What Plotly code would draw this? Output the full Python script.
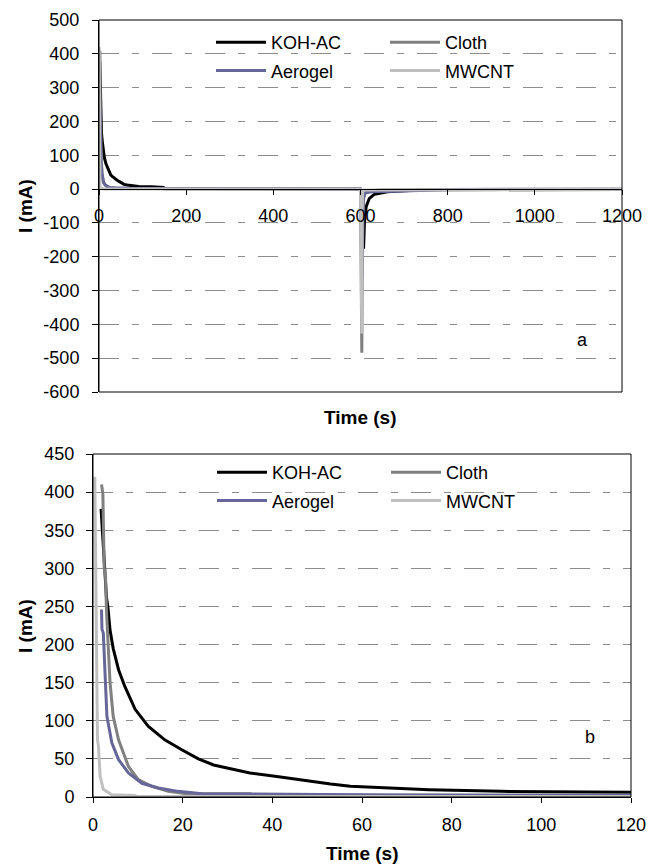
import plotly.graph_objects as go

# ---------------- data (time in s, current in mA) ----------------
koh_t = [1.8, 2.2, 3.0, 3.3, 3.8, 4.5, 5.7, 7.1, 9.4, 12.3, 16, 19.8, 23.5, 26.9, 29.8, 35, 41, 46, 53, 57.4,
         64.7, 75, 91, 120, 148, 150, 600, 607, 609, 613, 620, 632, 647, 662, 700, 750, 1200]
koh_i = [378, 340, 262, 250, 219, 195, 167, 145, 115, 93, 75, 62, 50, 42, 38, 31.5, 27, 22.7, 17, 14,
         12, 9.6, 7.4, 7, 5, 1, 0.5, -176, -101, -52, -28, -15, -11, -8, -5, -2, -1]

cloth_t = [1.9, 2.2, 2.5, 2.8, 3.0, 3.4, 3.8, 4.5, 5.7, 7.9, 10.1, 13.1, 16.8, 20.4, 35, 36, 150, 600,
           603, 604, 605, 607, 610, 620, 650, 1200]
cloth_i = [410, 398, 300, 290, 245, 195, 150, 106, 75, 40, 22.7, 14, 7.4, 4.5, 4.2, 2.5, 2, 0.5,
           -484, -200, -80, -30, -12, -5, -2, -0.5]

aero_t = [1.9, 2.0, 2.3, 2.5, 2.7, 3.1, 4.2, 5.7, 7.9, 10.9, 14.6, 19, 24.3, 65, 66, 150, 600,
          603.5, 604.5, 606, 610, 625, 700, 720, 800, 1200]
aero_i = [246, 220, 215, 190, 160, 106, 71, 49, 31.5, 18, 11.8, 7.4, 4.3, 3.5, 2.5, 2, 0.5,
          -260, -100, -30, -12, -8, -6, -5, -1, -0.5]

mwcnt_t = [0.4, 0.6, 0.8, 1.0, 1.2, 1.6, 2.3, 4.2, 9.4, 10, 600, 603, 604, 605, 608, 1200]
mwcnt_i = [420, 300, 110, 75, 68, 27, 10, 3, 2, 0.5, 0.5, -427, -60, -10, -3, -0.5]

series_names = ["KOH-AC", "Cloth", "Aerogel", "MWCNT"]
series_colors = ["#000000", "#808080", "#666699", "#C0C0C0"]

xa_ticks = [0, 200, 400, 600, 800, 1000, 1200]
ya_ticks = [500, 400, 300, 200, 100, 0, -100, -200, -300, -400, -500, -600]
ya_labels = ["500", "400", "300", "200", "100", "0", "-100", "-200", "-300", "-400", "-500", "-600"]
xb_ticks = [0, 20, 40, 60, 80, 100, 120]
yb_ticks = [0, 50, 100, 150, 200, 250, 300, 350, 400, 450]

# ---------------- layout helpers (window pixel -> paper) ----------------
# the page body has an 8px default margin, so the figure starts at (8, 8)
OFF = 8
W, H = 654 - OFF, 866 - OFF
def px(v):
    return (v - OFF) / W
def py(v):
    return 1 - (v - OFF) / H

FONT = "Liberation Sans, Arial, sans-serif"
data = [(koh_t, koh_i), (cloth_t, cloth_i), (aero_t, aero_i), (mwcnt_t, mwcnt_i)]

fig = go.Figure()
legends_a = ["legend", "legend2", "legend", "legend2"]
legends_b = ["legend3", "legend4", "legend3", "legend4"]
for k, ((t, i), name, col) in enumerate(zip(data, series_names, series_colors)):
    fig.add_trace(go.Scatter(x=t, y=i, mode="lines", name=name,
                             line=dict(color=col, width=3),
                             xaxis="x", yaxis="y", legend=legends_a[k],
                             legendgroup="a" + name))
for k, ((t, i), name, col) in enumerate(zip(data, series_names, series_colors)):
    fig.add_trace(go.Scatter(x=t, y=i, mode="lines", name=name,
                             line=dict(color=col, width=3),
                             xaxis="x2", yaxis="y2", legend=legends_b[k],
                             legendgroup="b" + name))

# panel geometry (window pixels)
a_l, a_r, a_t, a_b = 99, 622, 20, 392
b_l, b_r, b_t, b_b = 93, 631, 454, 797
a_zero = py(a_b) + (0 - (-600)) / 1100 * (py(a_t) - py(a_b))

grid = dict(showgrid=True, gridcolor="#8c8c8c", gridwidth=1, griddash="20px,13px,7px,13px")

fig.update_layout(
    width=W, height=H,
    margin=dict(l=0, r=0, t=0, b=0),
    paper_bgcolor="white", plot_bgcolor="white",
    font=dict(family=FONT, size=18, color="black"),
    showlegend=True,
    xaxis=dict(domain=[px(a_l), px(a_r)], range=[0, 1200], anchor="free", position=a_zero,
               tickvals=xa_ticks, ticks="outside", ticklen=5, tickcolor="black",
               showline=True, linecolor="black", linewidth=1, showgrid=False, zeroline=False,
               automargin=False, ticklabelstandoff=5),
    yaxis=dict(domain=[py(a_b), py(a_t)], range=[-600, 500], anchor="x",
               tickvals=ya_ticks, ticktext=ya_labels, ticks="outside", ticklen=6, tickcolor="black",
               showline=True, linecolor="black", linewidth=1, zeroline=False,
               automargin=False, ticklabelstandoff=9, **grid),
    xaxis2=dict(domain=[px(b_l), px(b_r)], range=[0, 120], anchor="y2",
                tickvals=xb_ticks, ticks="outside", ticklen=5, tickcolor="black",
                showline=True, linecolor="black", linewidth=1, showgrid=False, zeroline=False,
                automargin=False, ticklabelstandoff=6),
    yaxis2=dict(domain=[py(b_b), py(b_t)], range=[0, 450], anchor="x2",
                tickvals=yb_ticks, ticks="outside", ticklen=6, tickcolor="black",
                showline=True, linecolor="black", linewidth=1, zeroline=False,
                automargin=False, ticklabelstandoff=8, **grid),
)

leg_common = dict(xanchor="left", yanchor="top", bgcolor="rgba(0,0,0,0)", borderwidth=0,
                  orientation="v", tracegroupgap=2, itemwidth=50,
                  font=dict(family=FONT, size=18, color="black"))
fig.update_layout(
    legend=dict(x=px(211), y=py(24), **leg_common),
    legend2=dict(x=px(385), y=py(24), **leg_common),
    legend3=dict(x=px(212), y=py(454), **leg_common),
    legend4=dict(x=px(386), y=py(454), **leg_common),
)

# frames
for xr, yr in (("x domain", "y domain"), ("x2 domain", "y2 domain")):
    fig.add_shape(type="rect", xref=xr, yref=yr, x0=0, x1=1, y0=0, y1=1,
                  line=dict(color="black", width=1), layer="above")

title_font = dict(family=FONT, size=19, color="black")
ann = [
    dict(text="<b>Time (s)</b>", x=px(360), y=py(418), xanchor="center", yanchor="middle", font=title_font),
    dict(text="<b>Time (s)</b>", x=px(362), y=py(853), xanchor="center", yanchor="middle", font=title_font),
    dict(text="<b>I (mA)</b>", x=px(25), y=py(206), xanchor="center", yanchor="middle", textangle=-90, font=title_font),
    dict(text="<b>I (mA)</b>", x=px(25), y=py(626), xanchor="center", yanchor="middle", textangle=-90, font=title_font),
    dict(text="a", x=px(582), y=py(340), xanchor="center", yanchor="middle", font=dict(family=FONT, size=18)),
    dict(text="b", x=px(590), y=py(737), xanchor="center", yanchor="middle", font=dict(family=FONT, size=18)),
]
for a in ann:
    fig.add_annotation(xref="paper", yref="paper", showarrow=False, **a)

fig.write_html("out.html")
